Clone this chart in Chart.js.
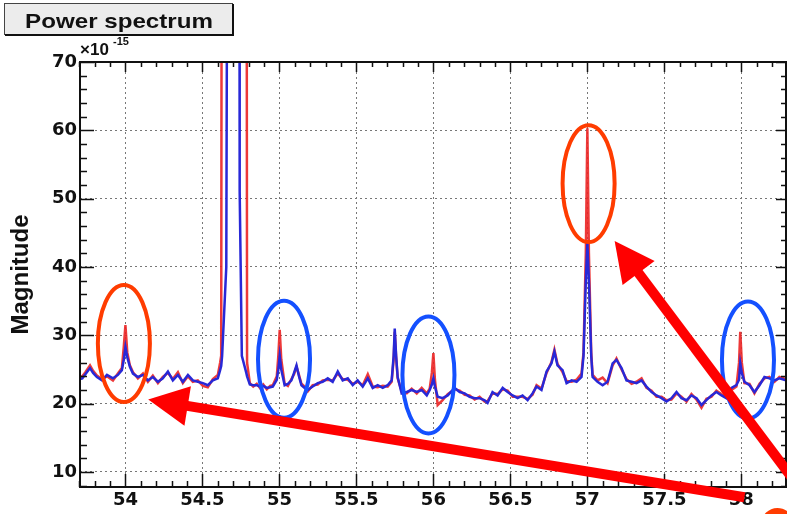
<!DOCTYPE html>
<html>
<head>
<meta charset="utf-8">
<script src="https://cdn.jsdelivr.net/npm/chart.js@4.4.1/dist/chart.umd.min.js"></script>
<style>
  body { margin: 0; background: #fff; }
  #wrap { width: 787px; height: 514px; }
</style>
</head>
<body>
<div id="wrap"><canvas id="spec" width="787" height="514"></canvas></div>
<script>
// magnitudes are in units of 1e-15
const freq = [
  53.705, 53.72, 53.74, 53.77, 53.79, 53.815, 53.848, 53.88, 53.919, 53.951,
  53.977, 53.99, 54.0, 54.012, 54.029, 54.049, 54.081, 54.114, 54.146, 54.178,
  54.211, 54.243, 54.276, 54.308, 54.341, 54.373, 54.406, 54.438, 54.47, 54.503,
  54.535, 54.568, 54.6, 54.615, 54.622, 54.628, 54.655, 54.668, 54.738, 54.742,
  54.756, 54.785, 54.79, 54.808, 54.83, 54.853, 54.873, 54.895, 54.918, 54.94,
  54.957, 54.983, 54.993, 55.002, 55.012, 55.034, 55.055, 55.078, 55.095, 55.111,
  55.127, 55.143, 55.164, 55.184, 55.216, 55.249, 55.281, 55.314, 55.346, 55.379,
  55.411, 55.444, 55.476, 55.508, 55.541, 55.574, 55.606, 55.638, 55.671, 55.703,
  55.729, 55.742, 55.749, 55.758, 55.768, 55.794, 55.827, 55.859, 55.892, 55.924,
  55.957, 55.976, 55.99, 56.0, 56.01, 56.028, 56.06, 56.093, 56.138, 56.171,
  56.203, 56.235, 56.268, 56.3, 56.333, 56.352, 56.384, 56.417, 56.45, 56.482,
  56.515, 56.547, 56.579, 56.612, 56.644, 56.67, 56.702, 56.735, 56.767, 56.786,
  56.806, 56.839, 56.865, 56.898, 56.93, 56.962, 56.975, 56.99, 57.0, 57.01,
  57.025, 57.034, 57.066, 57.099, 57.131, 57.164, 57.189, 57.222, 57.254, 57.287,
  57.319, 57.352, 57.384, 57.417, 57.449, 57.482, 57.514, 57.546, 57.579, 57.611,
  57.644, 57.676, 57.709, 57.741, 57.773, 57.806, 57.838, 57.871, 57.903, 57.936,
  57.968, 57.985, 57.993, 58.003, 58.02, 58.053, 58.085, 58.118, 58.15, 58.182,
  58.215, 58.247, 58.29
];
const blueMag = [
  23.6, 23.7, 24.3, 25.2, 24.5, 23.9, 23.4, 24.2, 23.7, 24.2,
  24.9, 26.5, 28.3, 26.8, 25.4, 24.4, 23.9, 24.2, 23.4, 23.9,
  23.2, 23.7, 24.7, 23.4, 24.2, 23.2, 24.2, 23.4, 23.2, 23.0,
  22.7, 23.4, 23.7, 24.9, 25.5, 27.0, 40.0, 150, 150, 51.0,
  27.0, 24.5, 24.0, 22.8, 22.7, 22.7, 22.5, 22.6, 22.3, 22.4,
  22.5, 23.5, 25.0, 27.0, 25.0, 22.7, 22.9, 23.4, 24.5, 25.6,
  24.0, 22.7, 22.3, 22.0, 22.5, 23.0, 23.2, 23.7, 23.2, 24.7,
  23.4, 23.7, 22.7, 23.4, 22.5, 23.7, 22.3, 22.7, 22.3, 22.7,
  23.4, 27.0, 31.0, 27.0, 23.9, 21.5, 21.7, 22.0, 21.7, 22.0,
  21.2, 22.0, 22.8, 23.7, 22.5, 21.0, 20.8, 21.2, 22.3, 21.7,
  21.5, 21.0, 20.8, 20.8, 20.5, 20.1, 21.7, 21.2, 22.3, 21.7,
  21.2, 20.8, 21.2, 20.5, 21.5, 22.5, 22.0, 24.7, 25.9, 27.6,
  25.6, 24.9, 23.0, 23.4, 23.2, 23.9, 27.0, 38.0, 43.5, 38.0,
  27.0, 23.9, 23.2, 22.7, 23.2, 25.9, 26.4, 25.2, 23.4, 23.2,
  23.0, 23.4, 22.5, 21.7, 21.2, 20.8, 20.3, 20.8, 21.7, 20.8,
  20.5, 21.2, 20.8, 19.8, 20.5, 21.2, 21.7, 21.2, 20.8, 22.3,
  22.7, 23.5, 25.9, 24.5, 23.2, 22.7, 21.7, 22.7, 23.9, 23.7,
  23.4, 23.7, 23.4
];
const redMag = [
  23.9, 24.0, 24.6, 25.6, 24.8, 24.1, 23.6, 24.0, 23.4, 24.4,
  25.2, 28.5, 31.5, 27.5, 25.6, 24.6, 23.7, 24.4, 23.2, 24.1,
  23.0, 23.9, 24.5, 23.6, 24.6, 23.0, 24.0, 23.2, 23.4, 22.6,
  22.4, 23.6, 24.2, 26.0, 27.0, 150, 150, 150, 150, 150,
  150, 150, 26.0, 23.0, 22.5, 22.9, 22.3, 22.8, 22.1, 22.6,
  22.7, 24.0, 27.0, 30.8, 26.5, 22.9, 22.6, 23.6, 24.3, 25.4,
  24.2, 22.9, 22.5, 21.8, 22.7, 22.8, 23.4, 23.5, 23.4, 24.4,
  23.6, 23.5, 22.9, 23.2, 22.7, 24.3, 22.5, 22.4, 22.6, 22.5,
  23.2, 26.5, 30.5, 26.8, 23.7, 21.8, 21.5, 22.2, 21.5, 22.3,
  21.5, 22.2, 24.5, 27.4, 23.5, 19.8, 20.5, 21.4, 22.1, 21.9,
  21.3, 21.2, 20.6, 21.0, 20.3, 20.4, 21.5, 21.4, 22.1, 21.9,
  21.0, 21.0, 21.0, 20.7, 21.3, 22.7, 22.2, 24.5, 26.1, 27.9,
  25.8, 24.6, 23.3, 23.2, 23.5, 24.4, 27.5, 42.0, 60.3, 42.0,
  27.5, 24.2, 23.4, 23.8, 23.0, 25.6, 26.6, 25.0, 23.6, 22.9,
  23.2, 23.7, 22.3, 21.9, 21.0, 21.0, 20.5, 20.6, 21.5, 21.0,
  20.3, 21.4, 20.6, 19.4, 20.7, 21.0, 21.9, 21.4, 21.0, 22.0,
  22.5, 26.0, 30.5, 26.0, 23.0, 22.9, 21.5, 22.9, 23.7, 23.9,
  23.2, 23.9, 23.6
];
const xTicks = [54, 54.5, 55, 55.5, 56, 56.5, 57, 57.5, 58];
const yTicks = [10, 20, 30, 40, 50, 60, 70];

// hand-drawn annotations, in data units
const rings = [
  { x: 53.99, y: 28.8, color: 'rgb(255,60,0)' },
  { x: 55.03, y: 26.5, color: 'rgb(20,80,255)' },
  { x: 55.968, y: 24.2, color: 'rgb(20,80,255)' },
  { x: 57.008, y: 52.2, color: 'rgb(255,60,0)' },
  { x: 58.043, y: 26.4, color: 'rgb(20,80,255)' }
];
const arrows = [
  { from: [58.507, 3.8], to: [57.177, 43.8] },
  { from: [58.02, 6.3], to: [54.148, 20.6] }
];

const tickFont = { family: '"DejaVu Sans", sans-serif', size: 18, weight: 'bold' };

const frame = {
  id: 'frame',
  afterDatasetsDraw(chart) {
    const { ctx, chartArea: a, scales: { x, y } } = chart;
    ctx.save();
    ctx.strokeStyle = '#111';
    ctx.lineWidth = 1.5;
    ctx.beginPath();
    for (let i = 537; i <= 582; i++) {
      const px = Math.round(x.getPixelForValue(i / 10)) + 0.5;
      const major = i % 5 === 0;
      ctx.moveTo(px, a.bottom); ctx.lineTo(px, a.bottom - (major ? 13 : 6));
      ctx.moveTo(px, a.top); ctx.lineTo(px, a.top + (major ? 10 : 5));
    }
    for (let v = 8; v <= 70; v += 2) {
      const py = Math.round(y.getPixelForValue(v)) + 0.5;
      const major = v % 10 === 0;
      ctx.moveTo(a.left, py); ctx.lineTo(a.left + (major ? 14 : 7), py);
      ctx.moveTo(a.right, py); ctx.lineTo(a.right - (major ? 10 : 5), py);
    }
    ctx.stroke();
    ctx.lineWidth = 2;
    ctx.strokeRect(a.left, a.top, a.right - a.left, a.bottom - a.top);
    ctx.restore();
  },
  afterDraw(chart) {
    const { ctx, scales: { x, y } } = chart;
    ctx.save();
    // title box
    ctx.fillStyle = '#ececec';
    ctx.fillRect(4, 3, 229, 32);
    ctx.strokeStyle = '#444';
    ctx.lineWidth = 1;
    ctx.strokeRect(4.5, 3.5, 228, 31);
    ctx.strokeStyle = '#111';
    ctx.lineWidth = 2;
    ctx.beginPath();
    ctx.moveTo(5, 35); ctx.lineTo(233, 35); ctx.lineTo(233, 4);
    ctx.stroke();
    ctx.fillStyle = '#111';
    ctx.font = 'bold 21px "Liberation Sans", Arial, sans-serif';
    ctx.textAlign = 'center';
    ctx.save();
    ctx.translate(119, 28);
    ctx.scale(1.15, 1);
    ctx.fillText('Power spectrum', 0, 0);
    ctx.restore();
    // exponent
    ctx.textAlign = 'left';
    ctx.font = 'bold 17px "Liberation Sans", Arial, sans-serif';
    ctx.fillText('\u00d710', 80, 55);
    ctx.font = 'bold 11px "Liberation Sans", Arial, sans-serif';
    ctx.fillText('-15', 113, 45);

    // rings
    ctx.lineWidth = 4;
    rings.forEach(r => {
      const cx = x.getPixelForValue(r.x), cy = y.getPixelForValue(r.y);
      const rx = Math.abs(x.getPixelForValue(r.x + 0.169) - cx);
      const ry = Math.abs(y.getPixelForValue(r.y + 8.56) - cy);
      ctx.strokeStyle = r.color;
      ctx.beginPath();
      ctx.ellipse(cx, cy, rx, ry, 0, 0, Math.PI * 2);
      ctx.stroke();
    });

    // arrows
    ctx.fillStyle = 'rgb(255,0,0)';
    ctx.strokeStyle = 'rgb(255,0,0)';
    ctx.lineWidth = 10;
    arrows.forEach(ar => {
      const x0 = x.getPixelForValue(ar.from[0]), y0 = y.getPixelForValue(ar.from[1]);
      const x1 = x.getPixelForValue(ar.to[0]), y1 = y.getPixelForValue(ar.to[1]);
      const len = Math.hypot(x1 - x0, y1 - y0);
      const ux = (x1 - x0) / len, uy = (y1 - y0) / len;
      const bx = x1 - ux * 40, by = y1 - uy * 40;
      ctx.beginPath();
      ctx.moveTo(x0, y0); ctx.lineTo(bx + ux * 2, by + uy * 2);
      ctx.stroke();
      ctx.beginPath();
      ctx.moveTo(x1, y1);
      ctx.lineTo(bx - uy * 20, by + ux * 20);
      ctx.lineTo(bx + uy * 20, by - ux * 20);
      ctx.closePath();
      ctx.fill();
    });

    // dot at the lower right corner
    ctx.fillStyle = 'rgb(255,60,0)';
    ctx.beginPath();
    ctx.arc(x.getPixelForValue(58.234), y.getPixelForValue(2.4), 16, 0, Math.PI * 2);
    ctx.fill();
    ctx.restore();
  }
};

new Chart(document.getElementById('spec'), {
  type: 'line',
  data: {
    datasets: [
      {
        label: 'blue',
        data: freq.map((f, i) => ({ x: f, y: blueMag[i] })),
        borderColor: 'rgb(40,40,215)',
        borderWidth: 2.5,
        pointRadius: 0,
        order: 0
      },
      {
        label: 'red',
        data: freq.map((f, i) => ({ x: f, y: redMag[i] })),
        borderColor: 'rgba(235,35,35,0.9)',
        borderWidth: 2.5,
        pointRadius: 0,
        order: 1
      }
    ]
  },
  options: {
    responsive: false,
    animation: false,
    layout: { padding: { left: 0, right: 1, top: 62, bottom: 0 } },
    plugins: { legend: { display: false }, tooltip: { enabled: false } },
    scales: {
      x: {
        type: 'linear',
        min: 53.705,
        max: 58.29,
        afterFit: s => { s.height = 27; },
        afterBuildTicks: s => { s.ticks = xTicks.map(v => ({ value: v })); },
        grid: { color: '#777', lineWidth: 1, drawTicks: false },
        border: { display: false, dash: [2, 3] },
        ticks: { padding: 3, font: tickFont, color: '#111', maxRotation: 0, callback: v => String(v) }
      },
      y: {
        min: 7.8,
        max: 70,
        afterFit: s => { s.width = 80; },
        afterBuildTicks: s => { s.ticks = yTicks.map(v => ({ value: v })); },
        grid: { color: '#777', lineWidth: 1, drawTicks: false },
        border: { display: false, dash: [2, 3] },
        ticks: { padding: 3, font: tickFont, color: '#111', callback: v => String(v) },
        title: {
          display: true,
          text: 'Magnitude',
          color: '#111',
          font: { family: '"Liberation Sans", Arial, sans-serif', size: 24, weight: 'bold' },
          padding: { top: 7, bottom: 0 }
        }
      }
    }
  },
  plugins: [frame]
});
</script>
</body>
</html>
